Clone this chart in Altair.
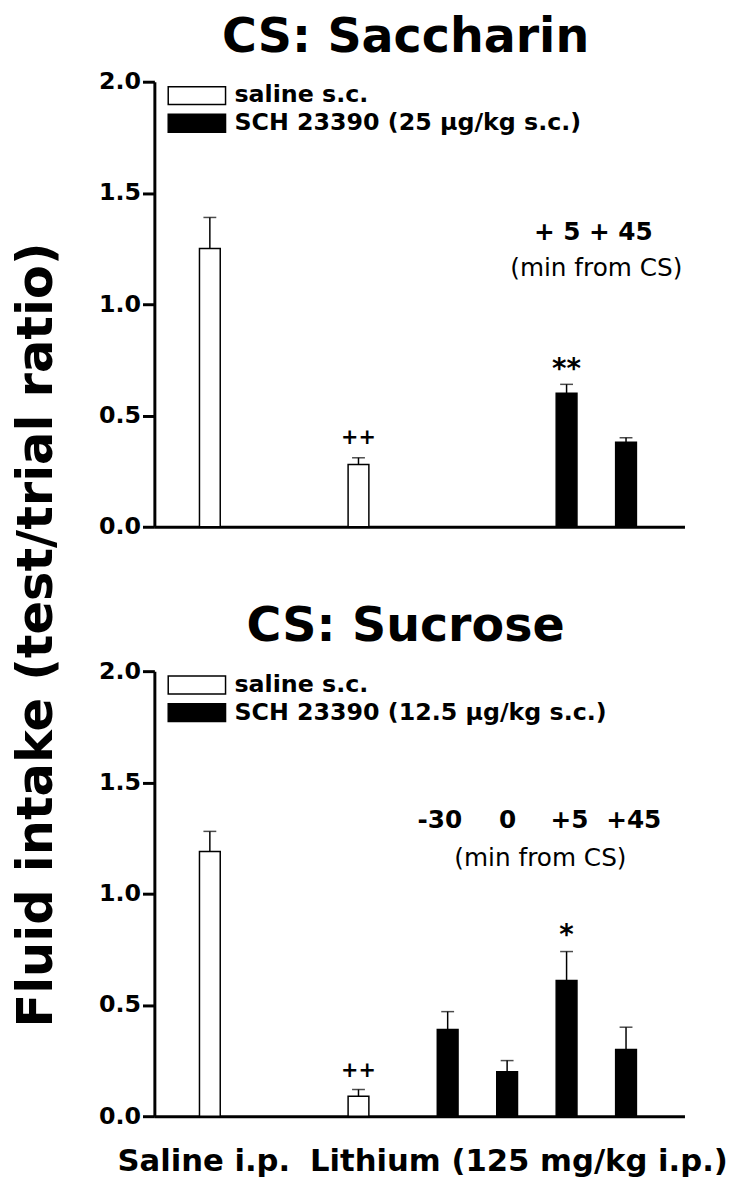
import altair as alt
import pandas as pd

FONT = "DejaVu Sans"

# ---------------- data ----------------
# top panel: CS Saccharin
top_pos = [1, 3.5, 7, 8]
top_mean = [1.25, 0.28, 0.60, 0.38]
top_upper = [1.39, 0.31, 0.64, 0.40]
top_legend = ["saline s.c.", "SCH 23390 (25 µg/kg s.c.)"]
top_group = [top_legend[0], top_legend[0], top_legend[1], top_legend[1]]
top_sig_pos = [3.5, 7]
top_sig_y = [0.373, 0.667]
top_sig_text = ["++", "**"]
top_sig_fs = [21, 28]
top_time_pos = [7.45]
top_time_y = [1.29]
top_time_text = ["+ 5 + 45"]
top_note_pos = [7.5]
top_note_y = [1.125]
top_note_text = ["(min from CS)"]

# bottom panel: CS Sucrose
bot_pos = [1, 3.5, 5, 6, 7, 8]
bot_mean = [1.19, 0.09, 0.39, 0.20, 0.61, 0.30]
bot_upper = [1.28, 0.12, 0.47, 0.25, 0.74, 0.40]
bot_legend = ["saline s.c.", "SCH 23390 (12.5 µg/kg s.c.)"]
bot_group = [bot_legend[0], bot_legend[0]] + [bot_legend[1]] * 4
bot_sig_pos = [3.5, 7]
bot_sig_y = [0.178, 0.772]
bot_sig_text = ["++", "*"]
bot_sig_fs = [21, 28]
bot_time_pos = [4.87, 6.01, 7.05, 8.13]
bot_time_y = [1.293] * 4
bot_time_text = ["-30", "0", "+5", "+45"]
bot_note_pos = [6.56]
bot_note_y = [1.124]
bot_note_text = ["(min from CS)"]

x_label_pos = [0.89, 6.19]
x_label_text = ["Saline i.p.", "Lithium (125 mg/kg i.p.)"]

y_ticks = [0, 0.5, 1.0, 1.5, 2.0]
X_DOMAIN = [0.15, 8.9]
W, H = 536, 450


def panel(title, pos, mean, upper, group, legend_names, sig_pos, sig_y, sig_text,
          sig_fs, time_pos, time_y, time_text, note_pos, note_y, note_text, bottom):
    bars = pd.DataFrame({"pos": pos, "mean": mean, "upper": upper, "group": group})
    sig = pd.DataFrame({"pos": sig_pos, "y": sig_y, "t": sig_text, "fs": sig_fs})
    times = pd.DataFrame({"pos": time_pos, "y": time_y, "t": time_text})
    notes = pd.DataFrame({"pos": note_pos, "y": note_y, "t": note_text})

    ycommon = dict(values=y_ticks, format=".1f", grid=False, tickSize=12,
                   tickWidth=3, tickColor="black", domainColor="black",
                   domainWidth=3, labelFontSize=24, labelFont=FONT,
                   labelFontWeight="bold", labelColor="black", labelPadding=2)
    if bottom:
        lab_map = " : ".join(
            f"datum.value == {p} ? '{t}'" for p, t in zip(x_label_pos, x_label_text)
        ) + " : ''"
        xaxis = alt.Axis(values=x_label_pos, labelExpr=lab_map, title=None,
                         tickSize=0, labelFontSize=31, labelFont=FONT,
                         labelFontWeight="bold", labelColor="black",
                         labelPadding=31, labelOverlap=False, labelBound=False,
                         labelFlush=False, labelLimit=600, domainColor="black",
                         domainWidth=3, grid=False)
        yaxis = alt.Axis(title=None, **ycommon)
    else:
        xaxis = alt.Axis(labels=False, ticks=False, title=None,
                         domainColor="black", domainWidth=3, grid=False)
        yaxis = alt.Axis(title="Fluid intake (test/trial ratio)",
                         titleFont=FONT, titleFontSize=50, titleFontWeight="bold",
                         titleColor="black", titleAngle=270, titleAlign="center",
                         titleBaseline="alphabetic", titleX=-104, titleY=559,
                         **ycommon)

    xs = alt.Scale(domain=X_DOMAIN, nice=False, zero=False)
    ys = alt.Scale(domain=[0, 2], nice=False)

    base = alt.Chart(bars)
    bar = base.mark_bar(size=21, stroke="black", strokeWidth=1.5).encode(
        x=alt.X("pos:Q", scale=xs, axis=xaxis),
        y=alt.Y("mean:Q", scale=ys, axis=yaxis),
        fill=alt.Fill("group:N",
                      scale=alt.Scale(domain=legend_names, range=["white", "black"]),
                      legend=alt.Legend(
                          title=None, orient="none", legendX=11, legendY=0,
                          symbolType="M-1,-1H5.44V1H-1Z", symbolSize=324,
                          symbolStrokeColor="black", symbolStrokeWidth=1.5,
                          symbolOpacity=1, labelFont=FONT, labelFontSize=24,
                          labelFontWeight="bold", labelColor="black",
                          labelOffset=46, clipHeight=28, rowPadding=0,
                          labelLimit=600)),
    )
    err = base.mark_rule(color="black", strokeWidth=1.5).encode(
        x="pos:Q", y="mean:Q", y2="upper:Q")
    cap = base.mark_tick(color="black", orient="horizontal", size=13,
                         thickness=1.5).encode(x="pos:Q", y="upper:Q")
    sig_t = alt.Chart(sig).mark_text(font=FONT, fontWeight="bold",
                                     baseline="alphabetic", color="black").encode(
        x="pos:Q", y="y:Q", text="t:N", size=alt.Size("fs:Q", scale=None))
    time_t = alt.Chart(times).mark_text(font=FONT, fontSize=25, fontWeight="bold",
                                        baseline="alphabetic", color="black").encode(
        x="pos:Q", y="y:Q", text="t:N")
    note_t = alt.Chart(notes).mark_text(font=FONT, fontSize=25, fontWeight="normal",
                                        baseline="alphabetic", color="black").encode(
        x="pos:Q", y="y:Q", text="t:N")

    return alt.layer(err, cap, bar, sig_t, time_t, note_t).properties(
        width=W, height=H,
        title=alt.TitleParams(title, font=FONT, fontSize=48, fontWeight="bold",
                              color="black", anchor="middle", baseline="alphabetic",
                              offset=-30, dx=-14, frame="group"),
    )


top = panel("CS: Saccharin", top_pos, top_mean, top_upper, top_group, top_legend,
            top_sig_pos, top_sig_y, top_sig_text, top_sig_fs, top_time_pos,
            top_time_y, top_time_text, top_note_pos, top_note_y, top_note_text, False)
bot = panel("CS: Sucrose", bot_pos, bot_mean, bot_upper, bot_group, bot_legend,
            bot_sig_pos, bot_sig_y, bot_sig_text, bot_sig_fs, bot_time_pos,
            bot_time_y, bot_time_text, bot_note_pos, bot_note_y, bot_note_text, True)

chart = alt.vconcat(top, bot, spacing=146, bounds="flush").resolve_scale(
    fill="independent"
).properties(
    padding={"left": 4, "top": 0, "right": 0, "bottom": 0},
    background="white",
).configure_view(stroke=None)

chart.save("out.html", embed_options={"renderer": "svg", "actions": False})
